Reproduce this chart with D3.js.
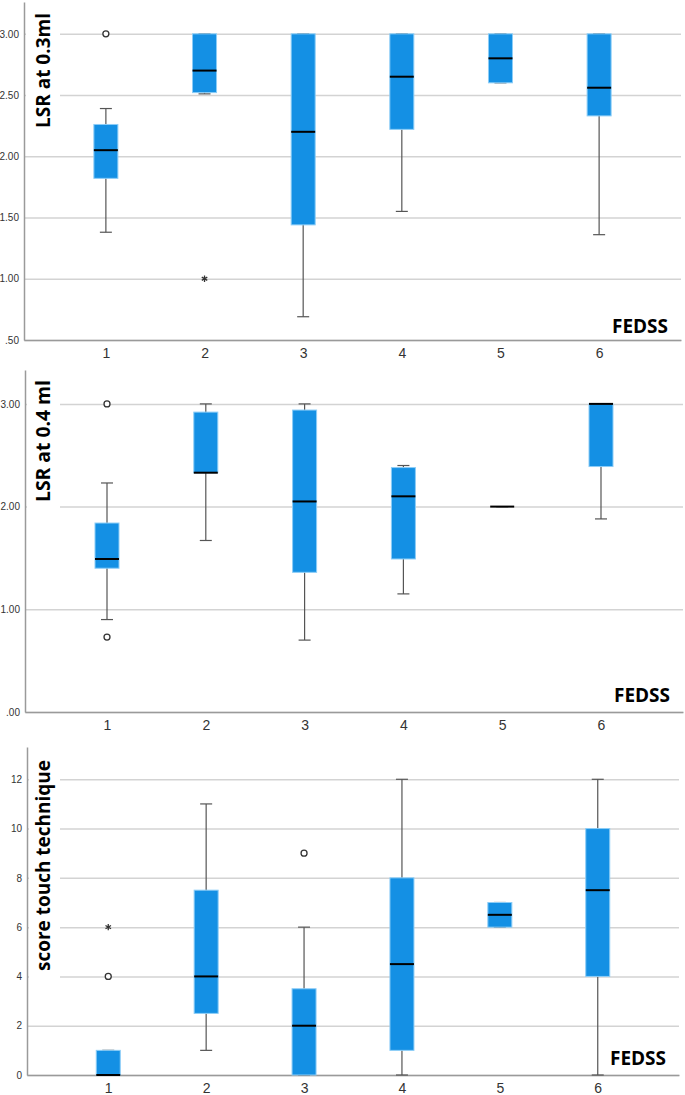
<!DOCTYPE html>
<html>
<head>
<meta charset="utf-8">
<script src="https://cdn.jsdelivr.net/npm/d3@7"></script>
<style>
  body { margin: 0; background: #fff; }
  svg { display: block; }
</style>
</head>
<body>
<div id="chart"></div>
<script>
// FEDSS groups shared by the three panels
const categories = ["1", "2", "3", "4", "5", "6"];

// Panel 1: LSR at 0.3ml
const lsr03Low  = [1.38, 2.51, 0.69, 1.55, 2.60, 1.36];
const lsr03Q1   = [1.82, 2.52, 1.44, 2.22, 2.60, 2.33];
const lsr03Med  = [2.05, 2.70, 2.20, 2.65, 2.80, 2.56];
const lsr03Q3   = [2.26, 3.00, 3.00, 3.00, 3.00, 3.00];
const lsr03High = [2.39, 3.00, 3.00, 3.00, 3.00, 3.00];
const lsr03Outliers = [
    { cat: "1", value: 3.00, type: "circle" },
    { cat: "2", value: 1.00, type: "star" }
];
const lsr03Ticks = [0.5, 1.0, 1.5, 2.0, 2.5, 3.0];

// Panel 2: LSR at 0.4 ml
const lsr04Low  = [0.90, 1.67, 0.70, 1.15, 2.00, 1.88];
const lsr04Q1   = [1.40, 2.33, 1.36, 1.49, 2.00, 2.39];
const lsr04Med  = [1.49, 2.33, 2.05, 2.10, 2.00, 3.00];
const lsr04Q3   = [1.84, 2.92, 2.94, 2.38, 2.00, 3.00];
const lsr04High = [2.23, 3.00, 3.00, 2.40, 2.00, 3.00];
const lsr04Outliers = [
    { cat: "1", value: 3.00, type: "circle" },
    { cat: "1", value: 0.73, type: "circle" }
];
const lsr04Ticks = [0, 1, 2, 3];

// Panel 3: score touch technique
const touchLow  = [0, 1.0, 0, 0, 6.0, 0];
const touchQ1   = [0, 2.5, 0, 1.0, 6.0, 4.0];
const touchMed  = [0, 4.0, 2.0, 4.5, 6.5, 7.5];
const touchQ3   = [1, 7.5, 3.5, 8.0, 7.0, 10.0];
const touchHigh = [1, 11.0, 6.0, 12.0, 7.0, 12.0];
const touchOutliers = [
    { cat: "1", value: 6, type: "star" },
    { cat: "1", value: 4, type: "circle" },
    { cat: "3", value: 9, type: "circle" }
];
const touchTicks = [0, 2, 4, 6, 8, 10, 12];

const width = 685, height = 1095;
const boxFill = "#1490e4";
const boxEdge = "#8ccdf7";

const svg = d3.select("#chart").append("svg")
    .attr("width", width)
    .attr("height", height);

function decimalFormat(v) {
    // SPSS style: ".50", "1.00"
    const s = d3.format(".2f")(v);
    return s.startsWith("0.") ? s.slice(1) : s;
}

function renderPanel(opts) {
    const g = svg.append("g");

    const x = d3.scalePoint()
        .domain(categories)
        .range([opts.left, opts.right])
        .padding(0.83);

    const y = d3.scaleLinear()
        .domain(opts.domain)
        .range([opts.bottom, opts.top]);

    // Gridlines
    g.append("g")
        .attr("transform", `translate(${opts.left},0)`)
        .call(d3.axisLeft(y).tickValues(opts.ticks).tickSize(-(opts.right - opts.left)).tickFormat(""))
        .call(a => a.select(".domain").remove())
        .call(a => a.selectAll("line").attr("stroke", "#d3d3d3").attr("stroke-width", 1.5));

    // White backing behind the y title hides the gridlines there
    g.append("rect")
        .attr("x", opts.left + 2)
        .attr("y", opts.titleTop - 6)
        .attr("width", 58 - opts.left)
        .attr("height", opts.titleLength + 14)
        .attr("fill", "#fff");

    g.append("text")
        .attr("transform", `translate(${opts.titleX},${opts.titleTop}) rotate(-90)`)
        .attr("text-anchor", "end")
        .attr("font-family", "'Open Sans', sans-serif")
        .attr("font-weight", "bold")
        .attr("font-size", "20px")
        .attr("fill", "#000")
        .attr("textLength", opts.titleLength)
        .attr("lengthAdjust", "spacingAndGlyphs")
        .text(opts.title);

    // Axes
    g.append("g")
        .attr("transform", `translate(${opts.left},0)`)
        .call(d3.axisLeft(y).tickValues(opts.ticks).tickSize(0).tickPadding(5).tickFormat(opts.format))
        .call(a => a.select(".domain").attr("stroke", "#9a9a9a").attr("stroke-width", 1.5))
        .call(a => a.selectAll("text")
            .attr("font-family", "'Liberation Sans', Arial, sans-serif")
            .attr("font-size", "10px")
            .attr("fill", "#333"));

    g.append("g")
        .attr("transform", `translate(0,${opts.bottom})`)
        .call(d3.axisBottom(x).tickSize(0).tickPadding(8))
        .call(a => a.select(".domain").attr("stroke", "#9a9a9a").attr("stroke-width", 1.5))
        .call(a => a.selectAll("text")
            .attr("font-family", "'Liberation Sans', Arial, sans-serif")
            .attr("font-size", "14px")
            .attr("fill", "#333"));

    const stats = categories.map((c, i) => ({
        cat: c,
        low: opts.low[i], q1: opts.q1[i], med: opts.med[i], q3: opts.q3[i], high: opts.high[i]
    }));

    const boxW = 24, capW = 12;
    const boxes = g.selectAll(".box").data(stats).enter().append("g").attr("class", "box");

    // Whiskers
    boxes.append("line")
        .attr("x1", d => x(d.cat)).attr("x2", d => x(d.cat))
        .attr("y1", d => y(d.low)).attr("y2", d => y(d.high))
        .attr("stroke", "#555").attr("stroke-width", 1.2);

    boxes.selectAll(".cap")
        .data(d => [d.low, d.high].map(v => ({ cat: d.cat, v })))
        .enter().append("line")
        .attr("x1", d => x(d.cat) - capW / 2).attr("x2", d => x(d.cat) + capW / 2)
        .attr("y1", d => y(d.v)).attr("y2", d => y(d.v))
        .attr("stroke", "#555").attr("stroke-width", 1.2);

    // Boxes
    boxes.append("rect")
        .attr("x", d => x(d.cat) - boxW / 2)
        .attr("y", d => y(d.q3))
        .attr("width", boxW)
        .attr("height", d => y(d.q1) - y(d.q3))
        .attr("fill", boxFill)
        .attr("stroke", boxEdge)
        .attr("stroke-width", d => y(d.q1) - y(d.q3) > 0 ? 1 : 0);

    // Medians
    boxes.append("line")
        .attr("x1", d => x(d.cat) - boxW / 2).attr("x2", d => x(d.cat) + boxW / 2)
        .attr("y1", d => y(d.med)).attr("y2", d => y(d.med))
        .attr("stroke", "#000").attr("stroke-width", 2);

    // Outliers and extremes
    g.selectAll(".outlier")
        .data(opts.outliers.filter(d => d.type === "circle"))
        .enter().append("circle")
        .attr("cx", d => x(d.cat)).attr("cy", d => y(d.value))
        .attr("r", 3)
        .attr("fill", "#fff").attr("stroke", "#333").attr("stroke-width", 1.3);

    g.selectAll(".extreme")
        .data(opts.outliers.filter(d => d.type === "star"))
        .enter().append("path")
        .attr("transform", d => `translate(${x(d.cat)},${y(d.value)})`)
        .attr("d", d3.symbol(d3.symbolAsterisk, 28))
        .attr("fill", "none").attr("stroke", "#333").attr("stroke-width", 1.3);

    // FEDSS label
    g.append("text")
        .attr("x", opts.right - 13)
        .attr("y", opts.bottom - opts.fedssGap)
        .attr("text-anchor", "end")
        .attr("font-family", "'Open Sans', sans-serif")
        .attr("font-weight", "bold")
        .attr("font-size", "20px")
        .attr("fill", "#000")
        .attr("textLength", 56)
        .attr("lengthAdjust", "spacingAndGlyphs")
        .text("FEDSS");
}

renderPanel({
    title: "LSR at 0.3ml", titleX: 50, titleTop: 13, titleLength: 115,
    left: 24, right: 681, top: 2, bottom: 340,
    domain: [0.5, 3.26], ticks: lsr03Ticks, format: decimalFormat,
    low: lsr03Low, q1: lsr03Q1, med: lsr03Med, q3: lsr03Q3, high: lsr03High,
    outliers: lsr03Outliers, fedssGap: 7
});

renderPanel({
    title: "LSR at 0.4 ml", titleX: 50, titleTop: 380, titleLength: 122,
    left: 25, right: 683, top: 370, bottom: 712,
    domain: [0, 3.33], ticks: lsr04Ticks, format: decimalFormat,
    low: lsr04Low, q1: lsr04Q1, med: lsr04Med, q3: lsr04Q3, high: lsr04High,
    outliers: lsr04Outliers, fedssGap: 10
});

renderPanel({
    title: "score touch technique", titleX: 50, titleTop: 760, titleLength: 211,
    left: 27, right: 679, top: 747, bottom: 1075,
    domain: [0, 13.31], ticks: touchTicks, format: d3.format("d"),
    low: touchLow, q1: touchQ1, med: touchMed, q3: touchQ3, high: touchHigh,
    outliers: touchOutliers, fedssGap: 10
});
</script>
</body>
</html>
